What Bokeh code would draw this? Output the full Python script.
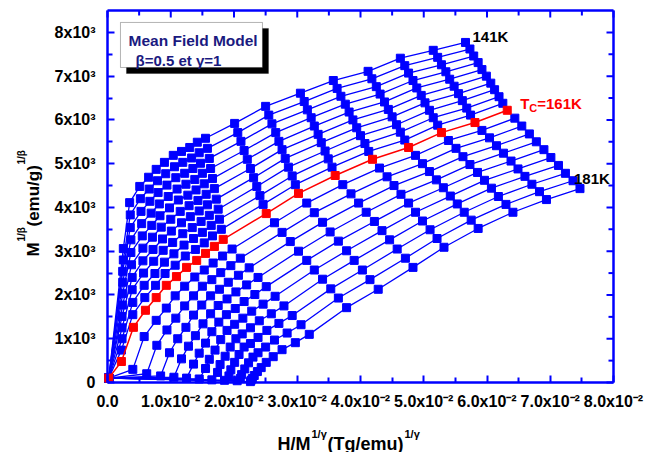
import math
from bokeh.plotting import figure
from bokeh.models import FixedTicker, Range1d, Label, BoxAnnotation
from bokeh.embed import file_html
from bokeh.resources import INLINE

# ---------------- data (x in units of 1e-2, y in units of 1e3) ----------------
temperatures = [141, 143, 145, 147, 149, 151, 153, 155, 157, 159, 161,
                163, 165, 167, 169, 171, 173, 175, 177, 179, 181]
tc_temperature = 161

# one list per applied-field step; entry k belongs to temperatures[k]
x_f00 = [0.02, 0.02, 0.02, 0.02, 0.02, 0.02, 0.02, 0.02, 0.02, 0.02, 0.02,
         0.02, 0.02, 0.02, 0.02, 0.02, 0.02, 0.02, 0.02, 0.02, 0.02]
y_f00 = [0.10, 0.10, 0.10, 0.10, 0.10, 0.10, 0.10, 0.10, 0.10, 0.10, 0.10,
         0.10, 0.10, 0.10, 0.10, 0.10, 0.10, 0.10, 0.10, 0.10, 0.10]
x_f01 = [0.25, 0.25, 0.24, 0.24, 0.24, 0.24, 0.23, 0.23, 0.23, 0.22, 0.22, 0.40, 0.62, 0.84, 1.05, 1.25, 1.45, 1.65, 1.85, 2.05, 2.26]
y_f01 = [3.06, 2.80, 2.54, 2.29, 2.03, 1.77, 1.51, 1.25, 1.00, 0.74, 0.48, 0.30, 0.20, 0.15, 0.12, 0.10, 0.08, 0.06, 0.05, 0.04, 0.02]
x_f02 = [0.35, 0.36, 0.36, 0.37, 0.37, 0.38, 0.39, 0.39, 0.40, 0.40, 0.41, 0.58, 0.78, 0.98, 1.17, 1.36, 1.55, 1.74, 1.92, 2.10, 2.27]
y_f02 = [4.11, 3.83, 3.54, 3.26, 2.97, 2.69, 2.40, 2.12, 1.83, 1.55, 1.26, 1.05, 0.85, 0.68, 0.54, 0.42, 0.32, 0.23, 0.15, 0.09, 0.05]
x_f03 = [0.51, 0.52, 0.53, 0.54, 0.55, 0.56, 0.56, 0.57, 0.58, 0.59, 0.60, 0.77, 0.94, 1.11, 1.28, 1.45, 1.61, 1.78, 1.95, 2.12, 2.29]
y_f03 = [4.48, 4.20, 3.91, 3.63, 3.35, 3.07, 2.78, 2.50, 2.22, 1.94, 1.65, 1.42, 1.20, 1.00, 0.83, 0.67, 0.53, 0.41, 0.29, 0.18, 0.09]
x_f04 = [0.65, 0.66, 0.67, 0.69, 0.70, 0.71, 0.72, 0.73, 0.75, 0.76, 0.77, 0.93, 1.08, 1.24, 1.39, 1.55, 1.70, 1.86, 2.01, 2.17, 2.32]
y_f04 = [4.69, 4.42, 4.14, 3.87, 3.59, 3.32, 3.04, 2.77, 2.49, 2.22, 1.94, 1.70, 1.47, 1.26, 1.07, 0.90, 0.74, 0.60, 0.46, 0.31, 0.16]
x_f05 = [0.77, 0.79, 0.80, 0.82, 0.83, 0.85, 0.87, 0.88, 0.90, 0.91, 0.93, 1.07, 1.22, 1.36, 1.51, 1.65, 1.79, 1.94, 2.08, 2.23, 2.37]
y_f05 = [4.87, 4.61, 4.34, 4.08, 3.81, 3.55, 3.28, 3.02, 2.75, 2.49, 2.22, 1.98, 1.75, 1.54, 1.34, 1.16, 0.98, 0.81, 0.64, 0.45, 0.25]
x_f06 = [0.90, 0.92, 0.94, 0.96, 0.98, 1.00, 1.01, 1.03, 1.05, 1.07, 1.09, 1.22, 1.36, 1.49, 1.63, 1.76, 1.89, 2.03, 2.16, 2.30, 2.43]
y_f06 = [5.03, 4.77, 4.51, 4.25, 3.99, 3.73, 3.46, 3.20, 2.94, 2.68, 2.42, 2.20, 1.98, 1.77, 1.57, 1.38, 1.19, 1.00, 0.81, 0.58, 0.34]
x_f07 = [1.04, 1.06, 1.08, 1.10, 1.12, 1.15, 1.17, 1.19, 1.21, 1.23, 1.25, 1.38, 1.50, 1.63, 1.75, 1.88, 2.01, 2.13, 2.26, 2.38, 2.51]
y_f07 = [5.19, 4.93, 4.68, 4.42, 4.17, 3.91, 3.65, 3.40, 3.14, 2.89, 2.63, 2.41, 2.20, 1.98, 1.76, 1.55, 1.33, 1.11, 0.89, 0.68, 0.46]
x_f08 = [1.17, 1.19, 1.22, 1.24, 1.27, 1.29, 1.31, 1.34, 1.36, 1.39, 1.41, 1.53, 1.65, 1.77, 1.89, 2.02, 2.14, 2.26, 2.38, 2.50, 2.62]
y_f08 = [5.28, 5.03, 4.78, 4.53, 4.28, 4.04, 3.79, 3.54, 3.29, 3.04, 2.79, 2.57, 2.35, 2.13, 1.91, 1.69, 1.47, 1.25, 1.03, 0.81, 0.59]
x_f09 = [1.30, 1.33, 1.35, 1.38, 1.40, 1.43, 1.45, 1.48, 1.50, 1.53, 1.55, 1.67, 1.79, 1.91, 2.03, 2.16, 2.28, 2.40, 2.52, 2.64, 2.76]
y_f09 = [5.37, 5.13, 4.89, 4.64, 4.40, 4.16, 3.92, 3.68, 3.43, 3.19, 2.95, 2.73, 2.51, 2.29, 2.07, 1.85, 1.63, 1.41, 1.19, 0.97, 0.75]
x_f10 = [1.42, 1.45, 1.47, 1.50, 1.53, 1.56, 1.58, 1.61, 1.64, 1.66, 1.69, 1.82, 1.95, 2.07, 2.20, 2.33, 2.46, 2.59, 2.71, 2.84, 2.97]
y_f10 = [5.49, 5.25, 5.01, 4.78, 4.54, 4.30, 4.06, 3.82, 3.59, 3.35, 3.11, 2.89, 2.67, 2.45, 2.23, 2.01, 1.79, 1.57, 1.35, 1.13, 0.91]
x_f11 = [1.55, 1.58, 1.61, 1.63, 1.66, 1.69, 1.72, 1.75, 1.77, 1.80, 1.83, 1.97, 2.10, 2.24, 2.38, 2.51, 2.65, 2.79, 2.92, 3.06, 3.19]
y_f11 = [5.58, 5.35, 5.12, 4.89, 4.66, 4.43, 4.19, 3.96, 3.73, 3.50, 3.27, 3.05, 2.84, 2.62, 2.40, 2.19, 1.97, 1.75, 1.53, 1.32, 1.10]
x_f12 = [2.01, 2.06, 2.11, 2.16, 2.21, 2.26, 2.31, 2.36, 2.41, 2.46, 2.51, 2.64, 2.76, 2.89, 3.02, 3.15, 3.27, 3.40, 3.53, 3.65, 3.78]
y_f12 = [5.92, 5.71, 5.51, 5.30, 5.10, 4.89, 4.68, 4.48, 4.27, 4.07, 3.86, 3.65, 3.43, 3.22, 3.00, 2.79, 2.57, 2.36, 2.14, 1.93, 1.71]
x_f13 = [2.50, 2.55, 2.60, 2.66, 2.71, 2.76, 2.81, 2.86, 2.92, 2.97, 3.02, 3.15, 3.27, 3.40, 3.52, 3.65, 3.78, 3.90, 4.03, 4.15, 4.28]
y_f13 = [6.31, 6.11, 5.91, 5.71, 5.51, 5.32, 5.12, 4.92, 4.72, 4.52, 4.32, 4.10, 3.88, 3.66, 3.44, 3.23, 3.01, 2.79, 2.57, 2.35, 2.13]
x_f14 = [3.05, 3.11, 3.16, 3.22, 3.27, 3.33, 3.38, 3.44, 3.49, 3.55, 3.60, 3.72, 3.85, 3.97, 4.09, 4.22, 4.34, 4.46, 4.58, 4.71, 4.83]
y_f14 = [6.61, 6.42, 6.23, 6.05, 5.86, 5.67, 5.48, 5.29, 5.11, 4.92, 4.73, 4.52, 4.31, 4.10, 3.89, 3.68, 3.47, 3.26, 3.05, 2.84, 2.63]
x_f15 = [3.57, 3.63, 3.69, 3.76, 3.82, 3.88, 3.94, 4.00, 4.07, 4.13, 4.19, 4.30, 4.42, 4.53, 4.64, 4.76, 4.87, 4.98, 5.10, 5.21, 5.32]
y_f15 = [6.90, 6.72, 6.54, 6.36, 6.18, 6.00, 5.82, 5.64, 5.46, 5.28, 5.10, 4.90, 4.70, 4.50, 4.30, 4.10, 3.89, 3.69, 3.49, 3.29, 3.09]
x_f16 = [4.12, 4.18, 4.25, 4.31, 4.38, 4.44, 4.50, 4.57, 4.63, 4.70, 4.76, 4.87, 4.98, 5.09, 5.20, 5.31, 5.42, 5.53, 5.64, 5.75, 5.86]
y_f16 = [7.11, 6.94, 6.76, 6.59, 6.41, 6.24, 6.07, 5.89, 5.72, 5.54, 5.37, 5.19, 5.00, 4.82, 4.63, 4.45, 4.26, 4.08, 3.89, 3.71, 3.52]
x_f17 = [4.63, 4.70, 4.76, 4.83, 4.89, 4.96, 5.02, 5.09, 5.15, 5.22, 5.28, 5.39, 5.51, 5.62, 5.73, 5.85, 5.96, 6.07, 6.18, 6.30, 6.41]
y_f17 = [7.41, 7.24, 7.07, 6.90, 6.73, 6.56, 6.39, 6.22, 6.05, 5.88, 5.71, 5.53, 5.35, 5.16, 4.98, 4.80, 4.62, 4.44, 4.25, 4.07, 3.89]
x_f18 = [5.15, 5.22, 5.28, 5.35, 5.41, 5.48, 5.55, 5.61, 5.68, 5.74, 5.81, 5.92, 6.04, 6.15, 6.26, 6.38, 6.49, 6.60, 6.71, 6.83, 6.94]
y_f18 = [7.59, 7.43, 7.26, 7.10, 6.93, 6.77, 6.60, 6.44, 6.27, 6.11, 5.94, 5.76, 5.59, 5.41, 5.24, 5.06, 4.88, 4.71, 4.53, 4.36, 4.18]
x_f19 = [5.66, 5.73, 5.79, 5.86, 5.92, 5.99, 6.06, 6.12, 6.19, 6.25, 6.32, 6.44, 6.55, 6.67, 6.78, 6.90, 7.01, 7.13, 7.24, 7.36, 7.47]
y_f19 = [7.77, 7.62, 7.46, 7.31, 7.15, 7.00, 6.84, 6.69, 6.53, 6.38, 6.22, 6.04, 5.86, 5.68, 5.50, 5.32, 5.14, 4.96, 4.78, 4.61, 4.43]

x_ticks = [0, 1, 2, 3, 4, 5, 6, 7, 8]
x_minor_ticks = [0.5, 1.5, 2.5, 3.5, 4.5, 5.5, 6.5, 7.5]
x_tick_labels = ["0.0", "1.0x10\u207b\u00b2", "2.0x10\u207b\u00b2", "3.0x10\u207b\u00b2", "4.0x10\u207b\u00b2",
                 "5.0x10\u207b\u00b2", "6.0x10\u207b\u00b2", "7.0x10\u207b\u00b2", "8.0x10\u207b\u00b2"]
y_ticks = [0, 1, 2, 3, 4, 5, 6, 7, 8]
y_minor_ticks = [0.5, 1.5, 2.5, 3.5, 4.5, 5.5, 6.5, 7.5]
y_tick_labels = ["0", "1x10\u00b3", "2x10\u00b3", "3x10\u00b3", "4x10\u00b3",
                 "5x10\u00b3", "6x10\u00b3", "7x10\u00b3", "8x10\u00b3"]

X_MAX = 8.0
Y_MAX = 8.5

# ---------------- build per-isotherm series ----------------
field_x = [x_f00, x_f01, x_f02, x_f03, x_f04, x_f05, x_f06, x_f07, x_f08, x_f09,
           x_f10, x_f11, x_f12, x_f13, x_f14, x_f15, x_f16, x_f17, x_f18, x_f19]
field_y = [y_f00, y_f01, y_f02, y_f03, y_f04, y_f05, y_f06, y_f07, y_f08, y_f09,
           y_f10, y_f11, y_f12, y_f13, y_f14, y_f15, y_f16, y_f17, y_f18, y_f19]

curves = []
for k, t in enumerate(temperatures):
    xs = [col[k] for col in field_x]
    ys = [col[k] for col in field_y]
    curves.append((t, xs, ys))

BLUE = "#0000FF"
RED = "#FF0000"
FONT = "Liberation Sans"

W, H = 657, 452
# plot area inside the canvas (pixels)
PL, PR, PT, PB = 107, 613, 10, 382
sx = (PR - PL) / X_MAX
sy = (PB - PT) / Y_MAX
x_range = Range1d(-PL / sx, (W - PL) / sx)
y_range = Range1d(-(H - PB) / sy, PB / sy)

p = figure(width=W, height=H, x_range=x_range, y_range=y_range, title=None,
           output_backend="svg", toolbar_location=None, min_border=0,
           background_fill_color="white", border_fill_color="white", outline_line_color=None)
p.grid.visible = False

blue_xs = [c[1] for c in curves if c[0] != tc_temperature]
blue_ys = [c[2] for c in curves if c[0] != tc_temperature]
p.multi_line(xs=blue_xs, ys=blue_ys, line_color=BLUE, line_width=1.3)
flat_x = [v for xs in blue_xs for v in xs]
flat_y = [v for ys in blue_ys for v in ys]
p.scatter(flat_x, flat_y, marker="square", size=8, fill_color=BLUE, line_color=BLUE)

for t, xs, ys in curves:
    if t == tc_temperature:
        p.line(xs, ys, line_color=RED, line_width=1.5)
        p.scatter(xs, ys, marker="square", size=8, fill_color=RED, line_color=RED)

# ---------------- axes (library axes, pinned to the plot-area edges) ----------------
x_ticker = FixedTicker(ticks=x_ticks, minor_ticks=x_minor_ticks)
y_ticker = FixedTicker(ticks=y_ticks, minor_ticks=y_minor_ticks)


def style_axis(ax, ticker, labels, bounds):
    ax.ticker = ticker
    ax.fixed_location = 0
    ax.bounds = bounds
    ax.axis_line_color = BLUE
    ax.axis_line_width = 2.5
    ax.major_tick_line_color = BLUE
    ax.major_tick_line_width = 2
    ax.minor_tick_line_color = BLUE
    ax.minor_tick_line_width = 2
    ax.major_tick_in = 7
    ax.major_tick_out = 0
    ax.minor_tick_in = 5
    ax.minor_tick_out = 0
    ax.major_label_text_font = FONT
    ax.major_label_text_font_style = "bold"
    ax.major_label_text_color = "black"
    ax.major_label_text_font_size = "16px"
    ax.major_label_overrides = labels


style_axis(p.xaxis[0], x_ticker, dict(zip(x_ticks, x_tick_labels)), (0, X_MAX))
p.xaxis[0].major_label_standoff = 10
style_axis(p.yaxis[0], y_ticker, dict(zip(y_ticks, y_tick_labels)), (0, Y_MAX))
p.yaxis[0].major_label_standoff = 12

# mirrored top / right frame edges with inward ticks
p.segment(x0=[0], y0=[Y_MAX], x1=[X_MAX], y1=[Y_MAX], line_color=BLUE, line_width=2.5)
p.segment(x0=[X_MAX], y0=[0], x1=[X_MAX], y1=[Y_MAX], line_color=BLUE, line_width=2.5)
tick_xs = x_ticks + x_minor_ticks
tick_len_x = [7 / sy] * len(x_ticks) + [5 / sy] * len(x_minor_ticks)
p.segment(x0=tick_xs, y0=[Y_MAX] * len(tick_xs), x1=tick_xs,
          y1=[Y_MAX - d for d in tick_len_x], line_color=BLUE, line_width=2)
tick_ys = y_ticks + y_minor_ticks
tick_len_y = [7 / sx] * len(y_ticks) + [5 / sx] * len(y_minor_ticks)
p.segment(x0=[X_MAX] * len(tick_ys), y0=tick_ys, x1=[X_MAX - d for d in tick_len_y],
          y1=tick_ys, line_color=BLUE, line_width=2)


def add_text(text, dx, dy, size, color="black", angle=0.0, ax=0.0, ay=0.0):
    # dx, dy: pixel offsets from the anchor (ax, ay) in data units
    p.add_layout(Label(x=ax, y=ay, x_offset=dx, y_offset=dy, text=text,
                       text_font=FONT, text_font_style="bold", text_font_size=size,
                       text_color=color, angle=angle,
                       text_align="left", text_baseline="alphabetic"))


# x-axis title: H/M^(1/γ)(Tg/emu)^(1/γ)
add_text("H/M", 170, -61, "18px")
add_text("1/\u03b3", 204, -51, "11px")
add_text("(Tg/emu)", 220, -61, "18px")
add_text("1/\u03b3", 297, -51, "11px")

# y-axis title: M^(1/β)(emu/g)^(1/β), rotated
rot = math.pi / 2
add_text("M", -74, 126, "17px", angle=rot)
add_text("1/\u03b2", -86, 141, "10px", angle=rot)
add_text("(emu/g)", -74, 156, "17px", angle=rot)
add_text("1/\u03b2", -86, 218, "10px", angle=rot)

# legend-like box with shadow
p.add_layout(BoxAnnotation(left=0.30, right=2.545, top=8.09, bottom=7.06,
                           fill_color="black", fill_alpha=1.0, line_color="black"))
p.add_layout(BoxAnnotation(left=0.205, right=2.45, top=8.227, bottom=7.198,
                           fill_color="white", fill_alpha=1.0, line_color="black", line_width=1))
add_text("Mean Field Model", 21, 342, "15.5px", color="#1a1a80")
add_text("\u03b2=0.5 et \u03b3=1", 28, 322, "15px", color="#1a1a80")

# curve annotations
t_first = curves[0]
t_last = curves[-1]
t_c = [c for c in curves if c[0] == tc_temperature][0]
add_text("%dK" % t_first[0], 7, 6, "15px", ax=t_first[1][-1], ay=t_first[2][-1])
add_text("%dK" % t_last[0], -6, 10, "15px", ax=t_last[1][-1], ay=t_last[2][-1])
add_text("T", 13, 7, "15px", color=RED, ax=t_c[1][-1], ay=t_c[2][-1])
add_text("C", 22, 2, "11px", color=RED, ax=t_c[1][-1], ay=t_c[2][-1])
add_text("=%dK" % t_c[0], 30, 7, "15px", color=RED, ax=t_c[1][-1], ay=t_c[2][-1])

open("out.html", "w").write(file_html(p, INLINE))
